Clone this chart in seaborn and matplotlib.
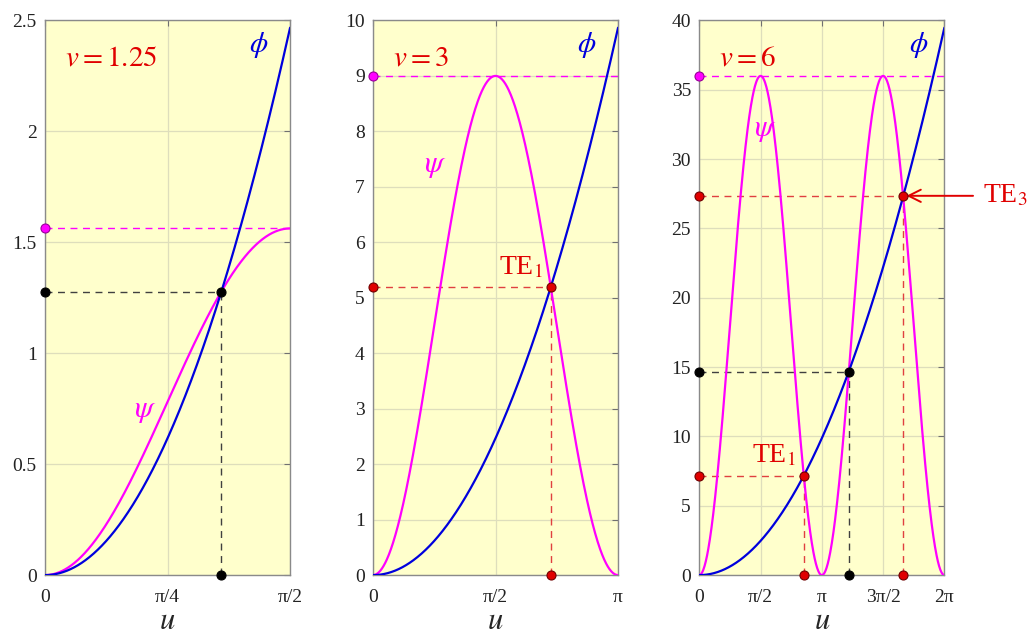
import numpy as np
import pandas as pd
import seaborn as sns
import matplotlib.pyplot as plt

# Normalized frequency of each panel and its plotting window
v_values = [1.25, 3, 6]
u_limits = [np.pi / 2, np.pi, 2 * np.pi]
y_limits = [2.5, 10, 40]
y_ticks = [
    [0, 0.5, 1, 1.5, 2, 2.5],
    [0, 1, 2, 3, 4, 5, 6, 7, 8, 9, 10],
    [0, 5, 10, 15, 20, 25, 30, 35, 40],
]
y_tick_labels = [
    ["0", "0.5", "1", "1.5", "2", "2.5"],
    [str(t) for t in y_ticks[1]],
    [str(t) for t in y_ticks[2]],
]
x_ticks = [
    [0, np.pi / 4, np.pi / 2],
    [0, np.pi / 2, np.pi],
    [0, np.pi / 2, np.pi, 3 * np.pi / 2, 2 * np.pi],
]
x_tick_labels = [
    ["0", "π/4", "π/2"],
    ["0", "π/2", "π"],
    ["0", "π/2", "π", "3π/2", "2π"],
]
title_labels = ["$v = 1.25$", "$v = 3$", "$v = 6$"]

# Crossings of psi and phi: u position, colour kind and optional mode label
crossing_u = [[1.13], [2.28], [2.68, 3.83, 5.23]]
crossing_kind = [["even"], ["odd"], ["odd", "even", "odd"]]
crossing_label = [[None], ["TE$_1$"], ["TE$_1$", None, "TE$_3$"]]

# Label placement for the curve names (data coordinates)
phi_label_pos = [(1.37, 2.39), (2.74, 9.55), (5.62, 38.2)]
psi_label_pos = [(0.64, 0.74), (0.80, 7.39), (1.69, 32.1)]

BG = "#FFFFCC"
GRID = "#DEDEBC"
MAGENTA = "#FF00FF"
BLUE = "#0000DD"
RED = "#E00000"
RED_DASH = "#E04040"
BLACK_DASH = "#404040"

sns.set_style("white")
plt.rcParams["font.family"] = ["Liberation Serif", "DejaVu Serif"]
plt.rcParams["mathtext.fontset"] = "stix"

fig = plt.figure(figsize=(10.32, 6.39), dpi=100)
lefts = [0.0436, 0.3614, 0.6776]
width = 0.2375
bottom, height = 0.1, 0.868

for i, v in enumerate(v_values):
    ax = fig.add_axes([lefts[i], bottom, width, height])
    umax = u_limits[i]
    u = np.linspace(0, umax, 600)
    df = pd.DataFrame({"u": u, "phi": u ** 2, "psi": v ** 2 * np.sin(u) ** 2})

    ax.set_facecolor(BG)
    ax.set_xlim(0, umax)
    ax.set_ylim(0, y_limits[i])
    ax.set_xticks(x_ticks[i])
    ax.set_xticklabels(x_tick_labels[i])
    ax.set_yticks(y_ticks[i])
    ax.set_yticklabels(y_tick_labels[i])
    ax.grid(True, color=GRID, lw=0.9, zorder=0)
    ax.set_axisbelow(True)
    ax.tick_params(direction="in", length=4, color="#707070", labelsize=14,
                   labelcolor="#222222", top=True, right=True)
    ax.tick_params(axis="x", pad=10)
    ax.tick_params(axis="y", pad=6)
    for sp in ax.spines.values():
        sp.set_color("#8A8A8A")
        sp.set_linewidth(1.0)

    # Peak level of psi
    vmax = v ** 2
    ax.plot([0, umax], [vmax, vmax], ls=(0, (5, 4)), color=MAGENTA, lw=1.0, zorder=2)
    ax.plot([0], [vmax], "o", ms=6.5, mfc=MAGENTA, mec="#990099", mew=0.8,
            clip_on=False, zorder=6)

    sns.lineplot(data=df, x="u", y="psi", color=MAGENTA, lw=1.6, ax=ax,
                 estimator=None, sort=False, zorder=3)
    sns.lineplot(data=df, x="u", y="phi", color=BLUE, lw=1.6, ax=ax,
                 estimator=None, sort=False, zorder=4)

    for uc, kind, lab in zip(crossing_u[i], crossing_kind[i], crossing_label[i]):
        h = uc ** 2
        dash_c = RED_DASH if kind == "odd" else BLACK_DASH
        face = RED if kind == "odd" else "black"
        edge = "#700000" if kind == "odd" else "black"
        ax.plot([0, uc], [h, h], ls=(0, (5, 4)), color=dash_c, lw=1.0, zorder=2)
        ax.plot([uc, uc], [0, h], ls=(0, (5, 4)), color=dash_c, lw=1.0, zorder=2)
        ax.plot([0, uc, uc], [h, h, 0], "o", ls="none", ms=6.5, mfc=face,
                mec=edge, mew=0.8, clip_on=False, zorder=7)
        if lab == "TE$_1$":
            ax.text(uc - 0.1 * umax / np.pi, h + 0.012 * y_limits[i], lab,
                    color=RED, fontsize=20, ha="right", va="bottom", zorder=8)
        elif lab is not None:
            ax.annotate(lab, xy=(uc + 0.08, h), xytext=(7.28, h),
                        textcoords="data", color=RED, fontsize=20,
                        ha="left", va="center", annotation_clip=False,
                        arrowprops=dict(arrowstyle="->", color=RED, lw=1.4,
                                        mutation_scale=22, shrinkA=5, shrinkB=0))

    ax.text(0.08, 0.955, title_labels[i], transform=ax.transAxes, color=RED,
            fontsize=21, ha="left", va="top")
    ax.text(*phi_label_pos[i], r"$\phi$", color=BLUE, fontsize=21,
            ha="center", va="center")
    ax.text(*psi_label_pos[i], r"$\psi$", color=MAGENTA, fontsize=22,
            ha="center", va="center")

    ax.set_xlabel("$u$", fontsize=22, labelpad=1)
    ax.set_ylabel("")

fig.savefig("out.png", dpi=100, facecolor="white")
